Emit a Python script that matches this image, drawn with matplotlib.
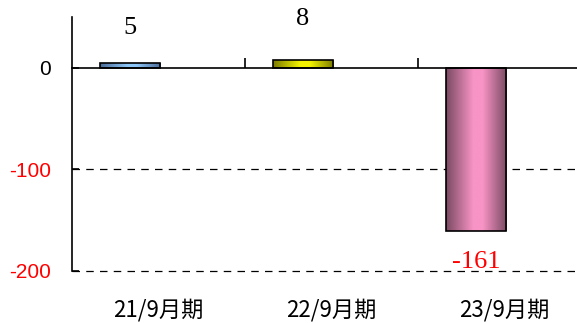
import numpy as np
import matplotlib
matplotlib.use('Agg')
import matplotlib.pyplot as plt
from matplotlib.colors import LinearSegmentedColormap

categories = ['21/9月期', '22/9月期', '23/9月期']
values = [5, 8, -161]
yticks = [0, -100, -200]
ytick_labels = ['0', '-100', '-200']

# edge / centre colours for the cylinder-like shading of each bar
bar_shades = [('#4a6a96', '#8cc6f8'),
              ('#7a7a00', '#f4f400'),
              ('#7a4a62', '#f894c6')]
label_colors = ['black', 'black', 'red']
label_offsets = [25, 29, -22]

fig = plt.figure(figsize=(5.77, 3.23), dpi=100)
ax = fig.add_axes([72 / 577, 1 - 271 / 323, 519 / 577, 254 / 323])

x = np.arange(len(categories))
bars = ax.bar(x + 0.335, values, width=0.347, facecolor='none',
              edgecolor='black', linewidth=1.2, zorder=3)

# gradient fill clipped to each bar
grad = np.linspace(0, 1, 256).reshape(1, -1)
for bar, (dark, light) in zip(bars, bar_shades):
    cmap = LinearSegmentedColormap.from_list(
        'shade', [(0, dark), (0.45, light), (0.6, light), (1, dark)])
    x0, y0 = bar.get_x(), bar.get_y()
    w, h = bar.get_width(), bar.get_height()
    im = ax.imshow(grad, cmap=cmap, aspect='auto', zorder=2,
                   extent=(x0, x0 + w, min(y0, y0 + h), max(y0, y0 + h)))
    im.set_clip_path(bar)

ax.set_xlim(0, 3)
ax.set_ylim(-200, 50)

# value labels
for bar, v, c, off in zip(bars, values, label_colors, label_offsets):
    cx = bar.get_x() + bar.get_width() / 2
    ax.annotate(str(v), (cx, v), xytext=(0, off), textcoords='offset points',
                ha='center', va='center', fontsize=19, color=c,
                family='Liberation Serif')

# dashed reference lines
for yv in [-100, -200]:
    ax.axhline(yv, color='black', linestyle=(0, (6, 5)), linewidth=0.9,
               zorder=1, clip_on=False)

# y axis
ax.set_yticks(yticks)
ax.set_yticklabels(ytick_labels, family='Liberation Sans', fontsize=15)
for lbl, c in zip(ax.get_yticklabels(), ['black', 'red', 'red']):
    lbl.set_color(c)
ax.tick_params(axis='y', direction='in', length=5, width=1.2, pad=15)

# zero line as x axis with separators between categories
for side in ['top', 'right']:
    ax.spines[side].set_visible(False)
ax.spines['bottom'].set_position(('data', 0))
ax.spines['left'].set_linewidth(1.2)
ax.spines['bottom'].set_linewidth(1.2)
ax.set_xticks([1, 2])
ax.set_xticklabels([])
ax.tick_params(axis='x', direction='in', length=7, width=1.2)

# category labels along the bottom
sec = ax.secondary_xaxis('bottom')
sec.spines['bottom'].set_visible(False)
sec.set_xticks(x + 0.5)
sec.set_xticklabels(categories, family=['Noto Sans CJK JP', 'DejaVu Sans'],
                    fontsize=16)
sec.tick_params(length=0, pad=20)

fig.savefig('out.png', dpi=100)
